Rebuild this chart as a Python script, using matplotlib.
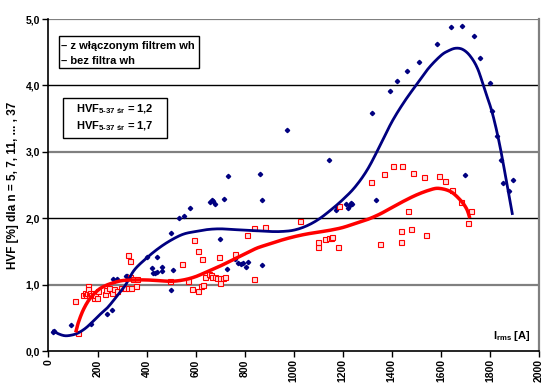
import matplotlib
matplotlib.use("Agg")
import matplotlib.pyplot as plt
import matplotlib.patches as patches
import numpy as np

plt.rcParams['font.family'] = ['Liberation Sans', 'DejaVu Sans']
plt.rcParams['font.weight'] = 'bold'
plt.rcParams['mathtext.fontset'] = 'custom'
plt.rcParams['mathtext.rm'] = 'Liberation Sans:bold'
plt.rcParams['mathtext.it'] = 'Liberation Sans:bold'
plt.rcParams['mathtext.bf'] = 'Liberation Sans:bold'

# measured points - with filter (blue)
blue_x = [20, 22, 90, 172, 237, 259, 264, 281, 316, 322, 403, 421, 427, 434, 441, 444,
          464, 464, 501, 501, 509, 533, 552, 577, 658, 665, 672, 681, 698, 716, 726, 731,
          761, 774, 787, 794, 805, 815, 861, 869, 872, 972, 1143, 1171, 1175, 1212, 1220,
          1229, 1232, 1239, 1320, 1335, 1391, 1422, 1460, 1510, 1584, 1642, 1686, 1699,
          1735, 1758, 1800, 1810, 1830, 1845, 1853, 1879, 1892]
blue_y = [0.28, 0.30, 0.39, 0.41, 0.56, 0.62, 1.08, 1.09, 1.13, 1.13, 1.42, 1.25, 1.17, 1.18, 1.19, 1.42,
          1.27, 1.21, 1.77, 0.92, 1.22, 2.00, 2.04, 2.16, 2.25, 2.27, 2.26, 2.22, 1.68, 2.29, 1.23, 2.64,
          1.38, 1.32, 1.31, 1.32, 1.27, 1.34, 2.66, 1.30, 2.27, 3.33, 2.88, 2.12, 2.17, 2.21, 2.16,
          2.20, 2.23, 2.22, 3.58, 2.27, 3.92, 4.07, 4.22, 4.35, 4.62, 4.88, 4.90, 2.65,
          4.75, 4.41, 4.04, 3.62, 3.24, 2.87, 2.53, 2.41, 2.58]

# measured points - without filter (red)
red_x = [108, 119, 142, 148, 152, 156, 160, 163, 166, 170, 175, 180, 186, 190, 197, 203,
         230, 236, 245, 258, 266, 280, 295, 310, 323, 325, 332, 332, 335, 346, 355, 360,
         495, 543, 567, 585, 594, 611, 611, 620, 626, 631, 637, 653, 662, 668, 678, 688,
         699, 710, 721, 696, 699, 762, 808, 837, 837, 883, 1027, 1100, 1100, 1126, 1142,
         1150, 1156, 1180, 1186, 1317, 1353, 1366, 1403, 1436, 1436, 1441, 1464, 1478,
         1486, 1532, 1539, 1592, 1615, 1645, 1684, 1711, 1721]
red_y = [0.75, 0.27, 0.85, 0.88, 0.84, 0.88, 0.98, 0.93, 0.85, 0.88, 0.84, 0.88, 0.80, 0.84, 0.80, 0.90,
         0.86, 0.92, 0.95, 0.87, 0.94, 0.90, 0.95, 0.95, 1.44, 0.95, 1.35, 1.12, 0.95, 1.08, 0.98, 1.08,
         1.05, 1.31, 1.06, 0.93, 1.67, 0.91, 1.50, 0.98, 1.38, 0.99, 1.11, 1.16, 1.14, 1.11, 1.11, 1.10,
         1.10, 1.10, 1.11, 1.41, 1.03, 1.46, 1.75, 1.86, 1.08, 1.87, 1.96, 1.57, 1.64, 1.69, 1.70,
         1.70, 1.71, 1.57, 2.19, 2.54, 1.61, 2.67, 2.79, 1.64, 1.81, 2.78, 2.11, 1.83,
         2.68, 2.62, 1.75, 2.63, 2.56, 2.42, 2.25, 1.93, 2.11]

# trend lines
blue_fit_x = [15, 40, 67, 95, 120, 150, 180, 210, 240, 280, 315, 350, 400, 450, 500, 550, 600,
              650, 700, 750, 800, 850, 900, 950, 1000, 1050, 1100, 1150, 1200, 1250, 1300,
              1350, 1400, 1450, 1500, 1550, 1600, 1630, 1660, 1690, 1720, 1750, 1780, 1810,
              1840, 1870, 1892]
blue_fit_y = [0.31, 0.26, 0.23, 0.24, 0.27, 0.34, 0.44, 0.55, 0.65, 0.83, 1.00, 1.22, 1.40, 1.55,
              1.67, 1.76, 1.80, 1.83, 1.84, 1.83, 1.82, 1.81, 1.80, 1.80, 1.82, 1.88, 1.98, 2.12,
              2.28, 2.47, 2.73, 3.08, 3.45, 3.75, 4.01, 4.26, 4.45, 4.52, 4.56, 4.54, 4.44, 4.25,
              3.92, 3.58, 3.10, 2.50, 2.05]
red_fit_x = [111, 121, 142, 169, 203, 230, 258, 300, 350, 400, 450, 500, 550, 600, 650, 700,
             750, 800, 850, 900, 950, 1000, 1050, 1100, 1150, 1200, 1250, 1300, 1350, 1400,
             1450, 1500, 1550, 1590, 1640, 1680, 1705, 1718]
red_fit_y = [0.28, 0.42, 0.62, 0.79, 0.92, 0.98, 1.02, 1.06, 1.07, 1.07, 1.06, 1.05, 1.07, 1.12,
             1.20, 1.28, 1.37, 1.46, 1.55, 1.61, 1.67, 1.72, 1.76, 1.79, 1.82, 1.86, 1.92, 1.98,
             2.06, 2.16, 2.26, 2.35, 2.42, 2.45, 2.40, 2.27, 2.14, 2.00]

x_ticks = list(range(0, 2001, 200))
y_ticks = [0, 1, 2, 3, 4, 5]

navy = '#000080'
red = '#ff0000'


def smooth(xs, ys, n=12):
    # catmull-rom through the read points, only to draw a smooth line
    p = np.column_stack([xs, ys]).astype(float)
    p = np.vstack([p[0], p, p[-1]])
    out = []
    t = np.linspace(0, 1, n, endpoint=False)[:, None]
    for i in range(1, len(p) - 2):
        p0, p1, p2, p3 = p[i - 1], p[i], p[i + 1], p[i + 2]
        seg = 0.5 * ((2 * p1) + (-p0 + p2) * t + (2 * p0 - 5 * p1 + 4 * p2 - p3) * t ** 2
                     + (-p0 + 3 * p1 - 3 * p2 + p3) * t ** 3)
        out.append(seg)
    out.append(p[-2][None, :])
    out = np.vstack(out)
    return out[:, 0], out[:, 1]


fig = plt.figure(figsize=(5.41, 3.85), dpi=100)
ax = fig.add_axes([0.0896, 0.0883, 0.9067, 0.8623])

# horizontal grid lines, alternating grey / black like the original
for v in y_ticks[1:]:
    if v % 2 == 1:
        ax.axhline(v, color='#808080', lw=1.6, zorder=0)
    else:
        ax.axhline(v, color='black', lw=1.0, zorder=0)

ax.plot(blue_x, blue_y, linestyle='none', marker='D', ms=2.2, color=navy, zorder=3)
ax.plot(red_x, red_y, linestyle='none', marker='s', ms=3.6, mfc='#ffe0e0', mec=red, mew=0.8, zorder=3)
bx, by = smooth(blue_fit_x, blue_fit_y)
rx, ry = smooth(red_fit_x, red_fit_y)
ax.plot(bx, by, color=navy, lw=2.0, zorder=4, solid_capstyle='butt')
ax.plot(rx, ry, color=red, lw=2.5, zorder=4, solid_capstyle='butt')

ax.set_xlim(0, 2000)
ax.set_ylim(0, 5)
ax.set_xticks(x_ticks)
ax.set_xticklabels([str(t) for t in x_ticks], rotation=90, fontsize=7.5, fontweight='bold')
ax.set_yticks(y_ticks)
ax.set_yticklabels([f'{t:.1f}'.replace('.', ',') for t in y_ticks], fontsize=7.5, fontweight='bold')
ax.tick_params(axis='both', direction='out', length=4, width=1, pad=2)

ax.spines['top'].set_visible(False)
ax.spines['right'].set_color('#808080')
ax.spines['right'].set_linewidth(1.6)
ax.spines['left'].set_linewidth(1.2)
ax.spines['bottom'].set_linewidth(1.2)

ax.set_ylabel('HVF [%] dla n = 5, 7, 11, ... , 37', fontsize=8.5, fontweight='bold')
ax.yaxis.set_label_coords(-0.06, 0.5)

ax.text(0.983, 0.045, r'I$_{rms}$ [A]', transform=ax.transAxes, ha='right', va='center',
        fontsize=8, fontweight='bold')

# legend-like box
ax.add_patch(patches.Rectangle((0.0214, 0.852), 0.2856, 0.097, transform=ax.transAxes,
                               fc='white', ec='black', lw=1, zorder=5))
ax.text(0.025, 0.919, '– z włączonym filtrem wh', transform=ax.transAxes,
        ha='left', va='center', fontsize=8, fontweight='bold', zorder=6)
ax.text(0.025, 0.873, '– bez filtra wh', transform=ax.transAxes,
        ha='left', va='center', fontsize=8, fontweight='bold', zorder=6)

# average values box
ax.add_patch(patches.Rectangle((0.0296, 0.642), 0.2124, 0.120, transform=ax.transAxes,
                               fc='white', ec='black', lw=1, zorder=5))
ax.text(0.136, 0.729, 'HVF$_{5\\text{-}37\\ śr}$ = 1,2', transform=ax.transAxes,
        ha='center', va='center', fontsize=8, fontweight='bold', zorder=6)
ax.text(0.136, 0.678, 'HVF$_{5\\text{-}37\\ śr}$ = 1,7', transform=ax.transAxes,
        ha='center', va='center', fontsize=8, fontweight='bold', zorder=6)

fig.savefig('out.png', dpi=100)
